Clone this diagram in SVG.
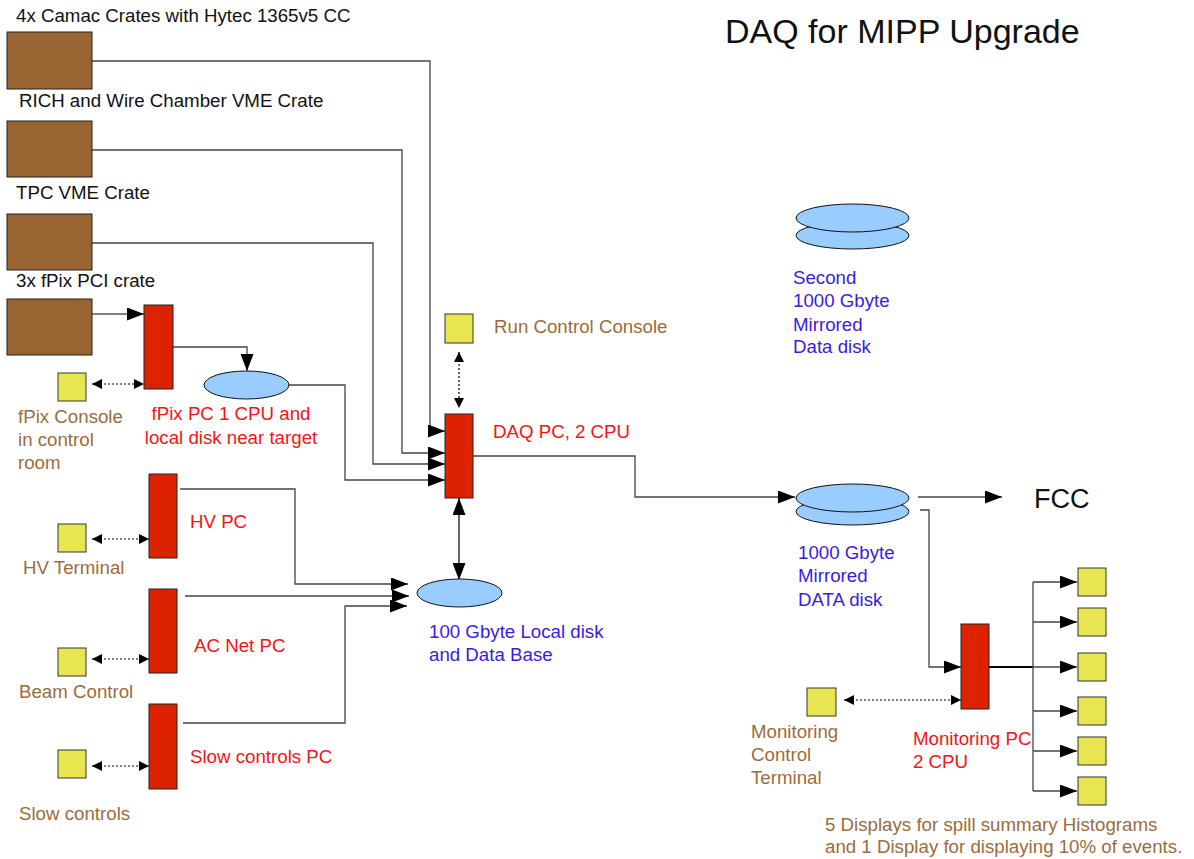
<svg xmlns="http://www.w3.org/2000/svg" width="1194" height="859" viewBox="0 0 1194 859">
<style>
text{font-family:"Liberation Sans",Arial,sans-serif;font-size:18.7px}
.blk{fill:#111}
.brn{fill:#9c6b3b}
.red{fill:#f51414}
.blu{fill:#3a1ce0}
.crate{fill:#996633;stroke:#222;stroke-width:1}
.pc{fill:#dd2200;stroke:#222;stroke-width:1}
.con{fill:#e8e650;stroke:#333;stroke-width:1}
.disk{fill:#99ccff;stroke:#111;stroke-width:1}
.ln{fill:none;stroke:#444;stroke-width:1.3}
.lnb{fill:none;stroke:#000;stroke-width:1.2}
.dot{fill:none;stroke:#000;stroke-width:1.2;stroke-dasharray:2,2}
</style>
<defs>
<marker id="ah" viewBox="0 0 17 13" refX="17" refY="6.5" markerWidth="17" markerHeight="13" markerUnits="userSpaceOnUse" orient="auto-start-reverse"><path d="M0,0 L17,6.5 L0,13 z" fill="#000"/></marker>
<marker id="ahs" viewBox="0 0 10 10" refX="10" refY="5" markerWidth="10" markerHeight="10" markerUnits="userSpaceOnUse" orient="auto-start-reverse"><path d="M0,0 L10,5 L0,10 z" fill="#000"/></marker>
</defs>
<text class="blk" x="725" y="43" style="font-size:34px">DAQ for MIPP Upgrade</text>
<g id="connectors">
<path class="ln" d="M92,61 H430 V431 H445" marker-end="url(#ah)"/>
<path class="ln" d="M92,150 H402 V453 H445" marker-end="url(#ah)"/>
<path class="ln" d="M92,243 H373 V464 H445" marker-end="url(#ah)"/>
<path class="lnb" d="M92,314 H144" marker-end="url(#ah)"/>
<path class="ln" d="M173,347 H247 V371" marker-end="url(#ah)"/>
<path class="ln" d="M289,385 H345 V480 H445" marker-end="url(#ah)"/>
<path class="dot" d="M92,384 H144" marker-start="url(#ahs)" marker-end="url(#ahs)"/>
<path class="dot" d="M92,539 H149" marker-start="url(#ahs)" marker-end="url(#ahs)"/>
<path class="dot" d="M92,659 H149" marker-start="url(#ahs)" marker-end="url(#ahs)"/>
<path class="dot" d="M92,766 H149" marker-start="url(#ahs)" marker-end="url(#ahs)"/>
<path class="dot" d="M459,352 V408" marker-start="url(#ahs)" marker-end="url(#ahs)"/>
<path class="lnb" d="M459,498 V580" marker-start="url(#ah)" marker-end="url(#ah)"/>
<path class="ln" d="M180,489 H295 V584 H408" marker-end="url(#ah)"/>
<path class="ln" d="M185,596 H409" marker-end="url(#ah)"/>
<path class="ln" d="M183,723 H345 V606 H407" marker-end="url(#ah)"/>
<path class="ln" d="M473,456 H635 V497 H795" marker-end="url(#ah)"/>
<path class="ln" d="M918,497 H1002" marker-end="url(#ah)"/>
<path class="ln" d="M920,510 H929 V667 H961" marker-end="url(#ah)"/>
<path class="dot" d="M844,700 H961" marker-start="url(#ahs)" marker-end="url(#ahs)"/>
<path fill="none" stroke="#000" stroke-width="2" d="M989,667 H1033"/>
<path class="ln" d="M1033,582 V791"/>
<path class="ln" d="M1033,582 H1077" marker-end="url(#ah)"/>
<path class="ln" d="M1033,622 H1077" marker-end="url(#ah)"/>
<path class="ln" d="M1033,667 H1077" marker-end="url(#ah)"/>
<path class="ln" d="M1033,711 H1077" marker-end="url(#ah)"/>
<path class="ln" d="M1033,751 H1077" marker-end="url(#ah)"/>
<path class="ln" d="M1033,791 H1077" marker-end="url(#ah)"/>
</g>
<g id="camac"><rect class="crate" x="7" y="32" width="85" height="57"/><text class="blk" x="16" y="22">4x Camac Crates with Hytec 1365v5 CC</text></g>
<g id="rich"><rect class="crate" x="7" y="121" width="85" height="56"/><text class="blk" x="19" y="107">RICH and Wire Chamber VME Crate</text></g>
<g id="tpc"><rect class="crate" x="7" y="214" width="85" height="56"/><text class="blk" x="16" y="199">TPC VME Crate</text></g>
<g id="fpixcrate"><rect class="crate" x="7" y="299" width="85" height="56"/><text class="blk" x="16" y="287">3x fPix PCI crate</text></g>
<g id="fpixpc"><rect class="pc" x="144" y="305" width="29" height="84"/><text class="red" text-anchor="middle" x="231" y="420">fPix PC 1 CPU and</text><text class="red" text-anchor="middle" x="231" y="444">local disk near target</text></g>
<g id="fpixdisk"><ellipse class="disk" cx="246.5" cy="385" rx="42.5" ry="14"/></g>
<g id="fpixconsole"><rect class="con" x="58" y="373" width="28" height="28"/><text class="brn" x="18" y="423">fPix Console</text><text class="brn" x="18" y="446">in control</text><text class="brn" x="18" y="469">room</text></g>
<g id="hvpc"><rect class="pc" x="149" y="474" width="28" height="84"/><text class="red" x="190" y="528">HV PC</text></g>
<g id="hvterm"><rect class="con" x="58" y="524" width="28" height="28"/><text class="brn" x="23" y="574">HV Terminal</text></g>
<g id="acnetpc"><rect class="pc" x="149" y="589" width="28" height="84"/><text class="red" x="194" y="652">AC Net PC</text></g>
<g id="beamctl"><rect class="con" x="58" y="648" width="28" height="28"/><text class="brn" x="19" y="698">Beam Control</text></g>
<g id="slowpc"><rect class="pc" x="149" y="704" width="28" height="85"/><text class="red" x="190" y="763">Slow controls PC</text></g>
<g id="slowctl"><rect class="con" x="58" y="750" width="28" height="28"/><text class="brn" x="19" y="820">Slow controls</text></g>
<g id="runctl"><rect class="con" x="445" y="314" width="28" height="29"/><text class="brn" x="494" y="333">Run Control Console</text></g>
<g id="daqpc"><rect class="pc" x="445" y="414" width="28" height="84"/><text class="red" x="493" y="438">DAQ PC, 2 CPU</text></g>
<g id="localdisk"><ellipse class="disk" cx="459.5" cy="593" rx="42.5" ry="14"/><text class="blu" x="429" y="638">100 Gbyte Local disk</text><text class="blu" x="429" y="661">and Data Base</text></g>
<g id="seconddisk"><ellipse class="disk" cx="852.5" cy="235.5" rx="56.5" ry="13.5"/><ellipse class="disk" cx="852.5" cy="218" rx="56.5" ry="14"/><text class="blu" x="793" y="284">Second</text><text class="blu" x="793" y="307">1000 Gbyte</text><text class="blu" x="793" y="331">Mirrored</text><text class="blu" x="793" y="353">Data disk</text></g>
<g id="datadisk"><ellipse class="disk" cx="852.5" cy="511.5" rx="56.5" ry="13.5"/><ellipse class="disk" cx="852.5" cy="498" rx="56.5" ry="14"/><text class="blu" x="798" y="559">1000 Gbyte</text><text class="blu" x="798" y="582">Mirrored</text><text class="blu" x="798" y="606">DATA disk</text></g>
<g id="fcc"><text class="blk" x="1034" y="508" style="font-size:27px">FCC</text></g>
<g id="monpc"><rect class="pc" x="961" y="624" width="28" height="85"/><text class="red" x="913" y="745">Monitoring PC</text><text class="red" x="913" y="768">2 CPU</text></g>
<g id="monterm"><rect class="con" x="807" y="688" width="29" height="28"/><text class="brn" x="751" y="738">Monitoring</text><text class="brn" x="751" y="761">Control</text><text class="brn" x="751" y="784">Terminal</text></g>
<g id="displays">
<rect class="con" x="1078" y="568" width="28" height="28"/>
<rect class="con" x="1078" y="608" width="28" height="28"/>
<rect class="con" x="1078" y="653" width="28" height="28"/>
<rect class="con" x="1078" y="697" width="28" height="28"/>
<rect class="con" x="1078" y="737" width="28" height="28"/>
<rect class="con" x="1078" y="777" width="28" height="28"/>
<text class="brn" x="825" y="831">5 Displays for spill summary Histograms</text>
<text class="brn" x="825" y="853">and 1 Display for displaying 10% of events.</text>
</g>
</svg>
